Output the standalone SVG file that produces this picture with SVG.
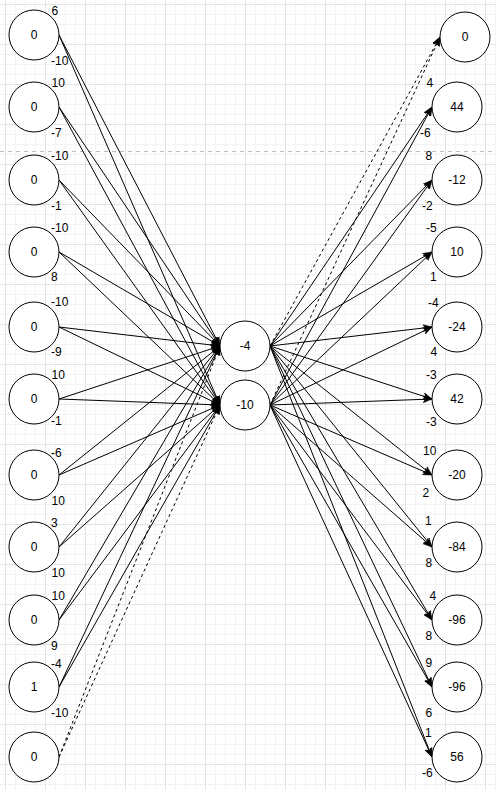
<svg xmlns="http://www.w3.org/2000/svg" width="496" height="790" viewBox="0 0 496 790">
<style>
.node circle{fill:#ffffff;stroke:#000000;stroke-width:1}
.node text,.lbl text{font-family:"Liberation Sans",Arial,sans-serif;font-size:12px;fill:#000000}
.node text{text-anchor:middle}
.e{fill:none;stroke:#000000;stroke-width:1;marker-end:url(#arr)}
.d{stroke-dasharray:3 3}
</style>
<defs>
<pattern id="grid" x="5" y="4" width="40" height="40" patternUnits="userSpaceOnUse">
<path d="M10.5,0V40M20.5,0V40M30.5,0V40M0,10.5H40M0,20.5H40M0,30.5H40" stroke="#f3f3f3" stroke-width="1" fill="none"/>
<path d="M0.5,0V40M0,0.5H40" stroke="#e3e3e3" stroke-width="1" fill="none"/>
</pattern>
<marker id="arr" markerUnits="userSpaceOnUse" markerWidth="10" markerHeight="8" refX="9" refY="4" orient="auto" viewBox="0 0 10 8">
<path d="M0,0.5L9,4L0,7.5L2.2,4Z" fill="#000000" stroke="#000000" stroke-width="0.5"/>
</marker>
</defs>
<rect width="496" height="790" fill="#ffffff"/>
<rect width="496" height="790" fill="url(#grid)"/>
<line x1="0" y1="151.5" x2="496" y2="151.5" stroke="#bdbdbd" stroke-width="1" stroke-dasharray="4 4"/>
<g id="connectors">
<path class="e" d="M59,35L220,346"/><path class="e" d="M59,35L220,405"/>
<path class="e" d="M59,107L220,346"/><path class="e" d="M59,107L220,405"/>
<path class="e" d="M59,180L220,346"/><path class="e" d="M59,180L220,405"/>
<path class="e" d="M59,252L220,346"/><path class="e" d="M59,252L220,405"/>
<path class="e" d="M59,327L220,346"/><path class="e" d="M59,327L220,405"/>
<path class="e" d="M59,399L220,346"/><path class="e" d="M59,399L220,405"/>
<path class="e" d="M59,475L220,346"/><path class="e" d="M59,475L220,405"/>
<path class="e" d="M59,547L220,346"/><path class="e" d="M59,547L220,405"/>
<path class="e" d="M59,620L220,346"/><path class="e" d="M59,620L220,405"/>
<path class="e" d="M59,687L220,346"/><path class="e" d="M59,687L220,405"/>
<path class="e d" d="M59,757L220,346"/><path class="e d" d="M59,757L220,405"/>
<path class="e d" d="M270,346L440,37"/><path class="e d" d="M270,405L440,37"/>
<path class="e" d="M270,346L432,107"/><path class="e" d="M270,405L432,107"/>
<path class="e" d="M270,346L432,180"/><path class="e" d="M270,405L432,180"/>
<path class="e" d="M270,346L432,252"/><path class="e" d="M270,405L432,252"/>
<path class="e" d="M270,346L432,327"/><path class="e" d="M270,405L432,327"/>
<path class="e" d="M270,346L432,399"/><path class="e" d="M270,405L432,399"/>
<path class="e" d="M270,346L432,475"/><path class="e" d="M270,405L432,475"/>
<path class="e" d="M270,346L432,547"/><path class="e" d="M270,405L432,547"/>
<path class="e" d="M270,346L432,620"/><path class="e" d="M270,405L432,620"/>
<path class="e" d="M270,346L432,687"/><path class="e" d="M270,405L432,687"/>
<path class="e" d="M270,346L432,757"/><path class="e" d="M270,405L432,757"/>
</g>
<g id="weight-labels" class="lbl">
<text x="51.5" y="15">6</text><text x="51" y="65">-10</text>
<text x="51.5" y="87">10</text><text x="51" y="137">-7</text>
<text x="51" y="160">-10</text><text x="51" y="210">-1</text>
<text x="51" y="232">-10</text><text x="51" y="281">8</text>
<text x="51" y="306">-10</text><text x="51" y="356">-9</text>
<text x="51.5" y="379">10</text><text x="51" y="425">-1</text>
<text x="51" y="457">-6</text><text x="51.5" y="505">10</text>
<text x="51" y="527">3</text><text x="51.5" y="577">10</text>
<text x="51.5" y="600">10</text><text x="51" y="650">9</text>
<text x="51" y="668">-4</text><text x="51" y="717">-10</text>
<text x="426.5" y="87">4</text><text x="420" y="137">-6</text>
<text x="425.5" y="160">8</text><text x="422" y="210">-2</text>
<text x="426" y="232">-5</text><text x="430" y="281">1</text>
<text x="428" y="307">-4</text><text x="430.5" y="356">4</text>
<text x="426" y="379">-3</text><text x="426" y="426">-3</text>
<text x="423" y="455">10</text><text x="422.5" y="497">2</text>
<text x="425" y="525">1</text><text x="425.5" y="567">8</text>
<text x="429.5" y="600">4</text><text x="425.5" y="640">8</text>
<text x="425.5" y="667">9</text><text x="425.5" y="717">6</text>
<text x="425" y="737">1</text><text x="422" y="777">-6</text>
</g>
<g id="in1" class="node"><circle cx="34" cy="35" r="25"/><text x="34" y="39">0</text></g>
<g id="in2" class="node"><circle cx="34" cy="107" r="25"/><text x="34" y="111">0</text></g>
<g id="in3" class="node"><circle cx="34" cy="180" r="25"/><text x="34" y="184">0</text></g>
<g id="in4" class="node"><circle cx="34" cy="252" r="25"/><text x="34" y="256">0</text></g>
<g id="in5" class="node"><circle cx="34" cy="327" r="25"/><text x="34" y="331">0</text></g>
<g id="in6" class="node"><circle cx="34" cy="399" r="25"/><text x="34" y="403">0</text></g>
<g id="in7" class="node"><circle cx="34" cy="475" r="25"/><text x="34" y="479">0</text></g>
<g id="in8" class="node"><circle cx="34" cy="547" r="25"/><text x="34" y="551">0</text></g>
<g id="in9" class="node"><circle cx="34" cy="620" r="25"/><text x="34" y="624">0</text></g>
<g id="in10" class="node"><circle cx="34" cy="687" r="25"/><text x="34" y="691">1</text></g>
<g id="in11" class="node"><circle cx="34" cy="757" r="25"/><text x="34" y="761">0</text></g>
<g id="h1" class="node"><circle cx="245" cy="346" r="25"/><text x="245" y="350">-4</text></g>
<g id="h2" class="node"><circle cx="245" cy="405" r="25"/><text x="245" y="409">-10</text></g>
<g id="out1" class="node"><circle cx="465" cy="37" r="25"/><text x="465" y="41">0</text></g>
<g id="out2" class="node"><circle cx="457" cy="107" r="25"/><text x="457" y="111">44</text></g>
<g id="out3" class="node"><circle cx="457" cy="180" r="25"/><text x="457" y="184">-12</text></g>
<g id="out4" class="node"><circle cx="457" cy="252" r="25"/><text x="457" y="256">10</text></g>
<g id="out5" class="node"><circle cx="457" cy="327" r="25"/><text x="457" y="331">-24</text></g>
<g id="out6" class="node"><circle cx="457" cy="399" r="25"/><text x="457" y="403">42</text></g>
<g id="out7" class="node"><circle cx="457" cy="475" r="25"/><text x="457" y="479">-20</text></g>
<g id="out8" class="node"><circle cx="457" cy="547" r="25"/><text x="457" y="551">-84</text></g>
<g id="out9" class="node"><circle cx="457" cy="620" r="25"/><text x="457" y="624">-96</text></g>
<g id="out10" class="node"><circle cx="457" cy="687" r="25"/><text x="457" y="691">-96</text></g>
<g id="out11" class="node"><circle cx="457" cy="757" r="25"/><text x="457" y="761">56</text></g>
</svg>
